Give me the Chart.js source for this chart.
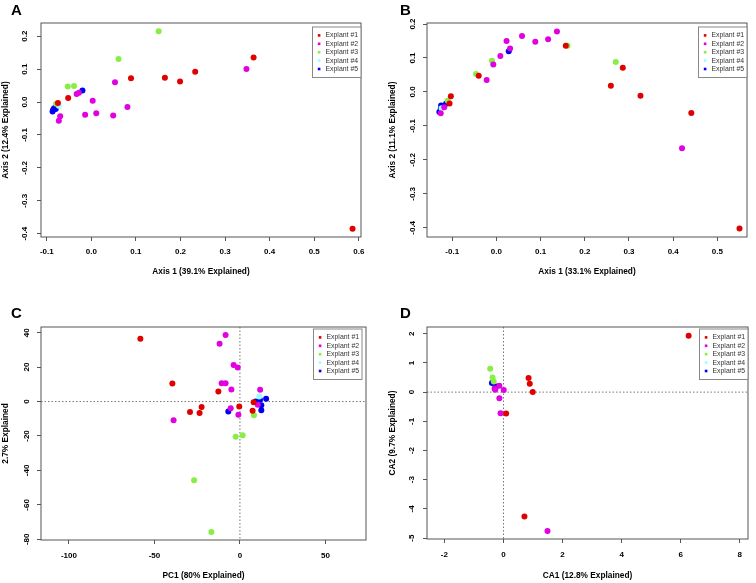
<!DOCTYPE html>
<html>
<head>
<meta charset="utf-8">
<script src="https://cdn.jsdelivr.net/npm/chart.js@4.4.1/dist/chart.umd.min.js"></script>
<style>
  body { margin: 0; background: #fff; width: 756px; height: 583px; position: relative; overflow: hidden; }
  canvas { position: absolute; }
  .tag { position: absolute; font: bold 15px "Liberation Sans", Arial, sans-serif; line-height: 1; color: #000; }
</style>
</head>
<body>
<canvas id="cA" width="378" height="290" style="left:0;top:0"></canvas>
<canvas id="cB" width="378" height="290" style="left:378px;top:0"></canvas>
<canvas id="cC" width="378" height="293" style="left:0;top:290px"></canvas>
<canvas id="cD" width="378" height="293" style="left:378px;top:290px"></canvas>
<div class="tag" style="left:11px;top:2px">A</div>
<div class="tag" style="left:400px;top:2px">B</div>
<div class="tag" style="left:11px;top:305px">C</div>
<div class="tag" style="left:400px;top:305px">D</div>

<script>
// nomi delle serie e colori
const explants = ['Explant #1', 'Explant #2', 'Explant #3', 'Explant #4', 'Explant #5'];
const colori = ['#E00000', '#E000E0', '#88EE44', '#99FFFF', '#0000EE'];

// Pannello A (PCoA)
const a1 = [[-0.075, -0.003], [-0.052, 0.012], [0.089, 0.072], [0.165, 0.074], [0.199, 0.062], [0.233, 0.092], [0.364, 0.135], [0.586, -0.385]];
const a2 = [[0.053, 0.060], [-0.033, 0.024], [-0.028, 0.028], [0.003, 0.004], [-0.014, -0.039], [0.011, -0.034], [0.049, -0.041], [0.081, -0.015], [-0.070, -0.043], [-0.073, -0.057], [0.348, 0.100]];
const a3 = [[0.151, 0.215], [0.061, 0.131], [-0.053, 0.047], [-0.039, 0.049], [-0.079, -0.005]];
const a4 = [[-0.073, -0.011]];
const a5 = [[-0.020, 0.035], [-0.087, -0.029], [-0.084, -0.020], [-0.082, -0.018], [-0.086, -0.024], [-0.080, -0.021]];

// Pannello B
const b1 = [[-0.103, -0.013], [-0.106, -0.034], [-0.040, 0.048], [0.157, 0.136], [0.259, 0.018], [0.286, 0.071], [0.326, -0.011], [0.441, -0.062], [0.550, -0.402]];
const b2 = [[-0.126, -0.063], [-0.118, -0.045], [-0.022, 0.035], [-0.007, 0.081], [0.009, 0.106], [0.023, 0.150], [0.031, 0.128], [0.058, 0.165], [0.088, 0.148], [0.117, 0.155], [0.137, 0.178], [0.420, -0.166]];
const b3 = [[-0.046, 0.053], [-0.010, 0.092], [0.161, 0.136], [0.270, 0.088], [-0.110, -0.026]];
const b4 = [[-0.124, -0.048]];
const b5 = [[0.028, 0.120], [-0.129, -0.059], [-0.125, -0.040], [-0.114, -0.035], [-0.126, -0.050]];

// Pannello C (PCA)
const c1 = [[-58.2, 36.5], [-39.5, 10.5], [-12.6, 5.8], [-29.2, -6.0], [-22.4, -3.1], [-23.6, -6.6], [-0.4, -2.9], [7.4, -5.4], [8.0, -0.4]];
const c2 = [[-8.4, 38.6], [-11.9, 33.5], [-3.7, 21.2], [-1.3, 19.8], [-10.7, 10.7], [-8.4, 10.7], [-5.0, 7.0], [-5.4, -3.9], [-0.9, -7.7], [-38.8, -10.8], [11.8, 6.8], [10.4, -1.9]];
const c3 = [[8.2, -7.9], [-2.5, -20.5], [1.6, -19.5], [-26.8, -45.7], [-16.7, -75.8]];
const c4 = [[11.3, 2.9]];
const c5 = [[-6.8, -5.8], [9.2, 0.0], [11.7, 1.0], [15.3, 1.7], [12.5, -2.1], [12.5, -5.0]];

// Pannello D (CA)
const d1 = [[6.27, 1.93], [0.85, 0.48], [0.89, 0.29], [0.99, 0.0], [0.09, -0.73], [0.71, -4.26]];
const d2 = [[1.49, -4.76], [-0.10, -0.72], [-0.14, -0.21], [0.01, 0.07], [-0.14, 0.22], [-0.28, 0.08], [-0.30, 0.12]];
const d3 = [[-0.45, 0.80], [-0.37, 0.50], [-0.33, 0.36]];
const d4 = [[-0.26, 0.08]];
const d5 = [[-0.39, 0.31], [-0.27, 0.18], [-0.23, 0.19]];

// tick degli assi
const tickXA = [-0.1, 0, 0.1, 0.2, 0.3, 0.4, 0.5, 0.6];
const tickYA = [-0.4, -0.3, -0.2, -0.1, 0, 0.1, 0.2];
const tickXB = [-0.1, 0, 0.1, 0.2, 0.3, 0.4, 0.5];
const tickYB = [-0.4, -0.3, -0.2, -0.1, 0, 0.1, 0.2];
const tickXC = [-100, -50, 0, 50];
const tickYC = [-80, -60, -40, -20, 0, 20, 40];
const tickXD = [-2, 0, 2, 4, 6, 8];
const tickYD = [-5, -4, -3, -2, -1, 0, 1, 2];

const FONT = '"Liberation Sans", Arial, sans-serif';

// cornice attorno all'area del grafico + linee tratteggiate sullo zero
const cornice = {
  id: 'cornice',
  beforeDatasetsDraw(chart, args, opts) {
    const { ctx, chartArea: a, scales } = chart;
    if (opts.zero) {
      const x0 = scales.x.getPixelForValue(0);
      const y0 = scales.y.getPixelForValue(0);
      ctx.save();
      ctx.strokeStyle = '#777';
      ctx.lineWidth = 1;
      ctx.setLineDash([1.5, 2]);
      ctx.beginPath();
      ctx.moveTo(x0, a.top); ctx.lineTo(x0, a.bottom);
      ctx.moveTo(a.left, y0); ctx.lineTo(a.right, y0);
      ctx.stroke();
      ctx.restore();
    }
  },
  afterDraw(chart, args, opts) {
    const { ctx, chartArea: a } = chart;
    ctx.save();
    ctx.strokeStyle = '#555';
    ctx.lineWidth = 1;
    ctx.strokeRect(a.left, a.top, a.right - a.left, a.bottom - a.top);

    // legenda in alto a destra, stile R
    const w = 48.5, h = 50.5;
    const lx = a.right - opts.dx - w, ly = a.top + opts.dy;
    ctx.fillStyle = '#fff';
    ctx.fillRect(lx, ly, w, h);
    ctx.strokeStyle = '#888';
    ctx.strokeRect(lx, ly, w, h);
    ctx.font = '6.9px ' + FONT;
    ctx.textBaseline = 'middle';
    chart.data.datasets.forEach((ds, i) => {
      const yy = ly + 8.4 + i * 8.4;
      ctx.fillStyle = ds.backgroundColor;
      ctx.fillRect(lx + 5.3, yy - 1.3, 2.6, 2.6);
      ctx.fillStyle = '#333';
      ctx.fillText(ds.label, lx + 13, yy);
    });
    ctx.restore();
  }
};

function pannello(id, serie, p) {
  const datasets = serie.map((pts, i) => ({
    label: explants[i],
    data: pts.map(v => ({ x: v[0], y: v[1] })),
    backgroundColor: colori[i],
    borderWidth: 0,
    pointRadius: 3,
    pointHoverRadius: 3
  }));
  const fmt = p.dec ? (v => Number(v).toFixed(p.dec)) : (v => String(v));
  const griglia = { display: true, drawOnChartArea: false, drawTicks: true, tickLength: 4, color: '#555', lineWidth: 1 };

  new Chart(document.getElementById(id), {
    type: 'scatter',
    data: { datasets },
    options: {
      responsive: false,
      animation: false,
      events: [],
      layout: { padding: { left: 0, top: p.top, right: p.right, bottom: 0 } },
      plugins: {
        legend: { display: false },
        tooltip: { enabled: false },
        cornice: { zero: p.zero, dx: p.legDx, dy: p.legDy }
      },
      scales: {
        x: {
          type: 'linear',
          min: p.xMin, max: p.xMax,
          afterBuildTicks: s => { s.ticks = p.xTicks.map(v => ({ value: v })); },
          afterFit: s => { s.height = p.xh; },
          grid: griglia,
          border: { display: false },
          ticks: { font: { family: FONT, size: 8, weight: 'bold' }, color: '#000', padding: p.xPad, callback: fmt, autoSkip: false, maxRotation: 0 },
          title: { display: true, text: p.xTitle, color: '#000', font: { family: FONT, size: 8.3, weight: 'bold' }, padding: { top: 0, bottom: p.xTitlePad } }
        },
        y: {
          type: 'linear',
          min: p.yMin, max: p.yMax,
          afterBuildTicks: s => { s.ticks = p.yTicks.map(v => ({ value: v })); },
          afterFit: s => { s.width = p.left; },
          grid: griglia,
          border: { display: false },
          ticks: { font: { family: FONT, size: 8, weight: 'bold' }, color: '#000', padding: p.yPad, callback: fmt, autoSkip: false, minRotation: 90, maxRotation: 90, crossAlign: 'center' },
          title: { display: true, text: p.yTitle, color: '#000', font: { family: FONT, size: 8.3, weight: 'bold' }, padding: { top: p.yTitlePad, bottom: 0 } }
        }
      }
    },
    plugins: [cornice]
  });
}

pannello('cA', [a1, a2, a3, a4, a5], {
  xMin: -0.113, xMax: 0.605, yMin: -0.410, yMax: 0.240, dec: 1,
  xTicks: tickXA, yTicks: tickYA,
  left: 41, right: 17, top: 23, xh: 53,
  xPad: 5.5, yPad: 5, xTitlePad: 13.3, yTitlePad: 1,
  xTitle: 'Axis 1 (39.1% Explained)', yTitle: 'Axis 2 (12.4% Explained)',
  zero: false, legDx: 0, legDy: 4
});

pannello('cB', [b1, b2, b3, b4, b5], {
  xMin: -0.157, xMax: 0.567, yMin: -0.427, yMax: 0.203, dec: 1,
  xTicks: tickXB, yTicks: tickYB,
  left: 49, right: 9, top: 23, xh: 53,
  xPad: 5.8, yPad: 3.7, xTitlePad: 13.3, yTitlePad: 10,
  xTitle: 'Axis 1 (33.1% Explained)', yTitle: 'Axis 2 (11.1% Explained)',
  zero: false, legDx: 0, legDy: 4
});

pannello('cC', [c1, c2, c3, c4, c5], {
  xMin: -116.3, xMax: 73.7, yMin: -80.4, yMax: 43.3, dec: 0,
  xTicks: tickXC, yTicks: tickYC,
  left: 41, right: 12, top: 37, xh: 43,
  xPad: 7, yPad: 4.9, xTitlePad: 2.3, yTitlePad: 1,
  xTitle: 'PC1 (80% Explained)', yTitle: '2.7% Explained',
  zero: true, legDx: 4, legDy: 2
});

pannello('cD', [d1, d2, d3, d4, d5], {
  xMin: -2.59, xMax: 8.28, yMin: -5.03, yMax: 2.23, dec: 0,
  xTicks: tickXD, yTicks: tickYD,
  left: 49, right: 8, top: 37, xh: 44,
  xPad: 7.4, yPad: 7.7, xTitlePad: 2.3, yTitlePad: 10,
  xTitle: 'CA1 (12.8% Explained)', yTitle: 'CA2 (9.7% Explained)',
  zero: true, legDx: 0, legDy: 2
});
</script>
</body>
</html>
